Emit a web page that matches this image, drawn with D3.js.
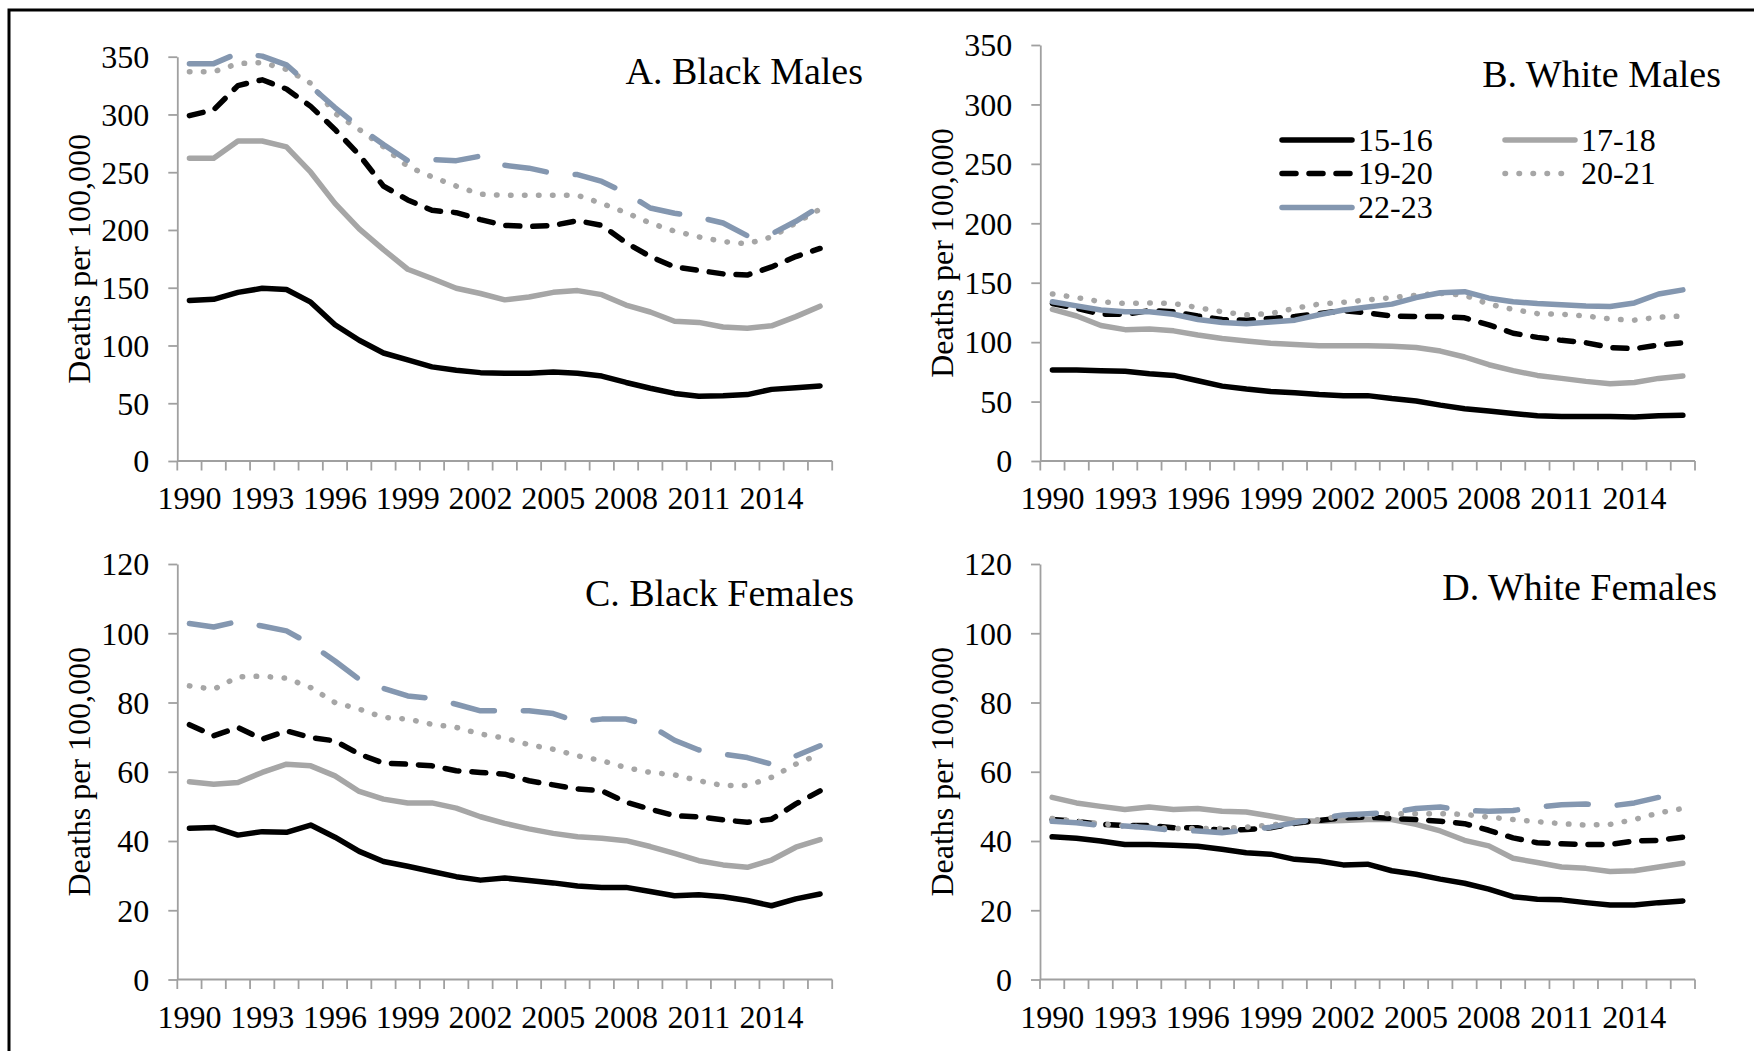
<!DOCTYPE html>
<html>
<head>
<meta charset="utf-8">
<script src="https://cdn.jsdelivr.net/npm/d3@7"></script>
<style>
  html, body { margin: 0; padding: 0; background: #fff; overflow: hidden; }
  svg { display: block; }
  text { font-family: "Liberation Serif", "Times New Roman", serif; fill: #000; }
</style>
</head>
<body>
<svg id="chart" width="1754" height="1051"></svg>
<script>
// categories
var years = [1990, 1991, 1992, 1993, 1994, 1995, 1996, 1997, 1998, 1999, 2000, 2001, 2002, 2003,
  2004, 2005, 2006, 2007, 2008, 2009, 2010, 2011, 2012, 2013, 2014, 2015, 2016];
var yearLabels = [1990, 1993, 1996, 1999, 2002, 2005, 2008, 2011, 2014];
var ageGroups = ["15-16", "17-18", "19-20", "20-21", "22-23"];
var maleTicks = [0, 50, 100, 150, 200, 250, 300, 350];
var femaleTicks = [0, 20, 40, 60, 80, 100, 120];

// A. Black Males
var blackMales1516 = [139, 140, 146, 149.5, 148.5, 137.5, 118, 104.5, 93.5, 87.5, 81.5, 78.5, 76.5, 76, 76, 77, 76, 73.5, 68, 63, 58.5, 56, 56.5, 57.5, 62, 63.5, 65];
var blackMales1718 = [262, 262, 277, 277, 272, 250, 223, 201, 183, 166, 158, 149.5, 145, 139.5, 142, 146, 147.5, 144, 135, 129, 121, 120, 116, 115, 117, 125, 134];
var blackMales1920 = [299, 304, 325, 330, 322, 307, 287, 265, 238, 226, 217, 215, 209, 204, 203, 204, 208, 204, 189, 177, 168, 165, 162, 161, 168, 177, 184];
var blackMales2021 = [337, 337, 344, 345, 339, 327, 301, 287, 272, 255, 246, 238, 231, 230, 230, 230, 230, 223, 215, 206, 199, 194, 190, 188, 194, 206, 218];
var blackMales2223 = [344, 344, 353, 350.5, 343, 324.5, 306, 289, 274, 260, 261, 260, 264, 256, 253.5, 249, 248, 242, 232, 219, 214.5, 211, 206, 195, 196.5, 207.5, 220.5];

// B. White Males
var whiteMales1516 = [76.5, 76.5, 76, 75.5, 73.5, 72, 67.5, 63, 60.5, 58.5, 57.5, 56, 55, 55, 52.5, 50.5, 47, 44, 42, 40, 38, 37.5, 37.5, 37.5, 37, 38, 38.5];
var whiteMales1718 = [127.5, 122, 114, 110.5, 111, 109.5, 106, 103, 101, 99, 98, 97, 97, 97, 96.5, 95.5, 92.5, 87.5, 81, 76, 72, 69.5, 67, 65, 66, 69.5, 71.5];
var whiteMales1920 = [132.5, 128.5, 123.5, 123.5, 126.5, 125.5, 122, 119, 118.5, 120, 121.5, 124, 126.5, 124.5, 122, 121.5, 121.5, 120.5, 114.5, 107.5, 104, 101.5, 99.5, 95.5, 94.5, 97.5, 99.5];
var whiteMales2021 = [140.5, 137.5, 134, 132.5, 133, 132.5, 129, 125.5, 123, 124, 128.5, 132, 133.5, 135.5, 137.5, 139.5, 141, 139.5, 132, 127.5, 124, 123.5, 122, 119.5, 118.5, 121, 122];
var whiteMales2223 = [134, 130.5, 127, 125.5, 125.5, 123.5, 119, 116.5, 115.5, 117, 118.5, 123, 127, 129.5, 132, 137.5, 141.5, 142.5, 137, 134, 132.5, 131.5, 130.5, 130, 133, 140.5, 144];

// C. Black Females
var blackFemales1516 = [43.7, 43.9, 41.7, 42.7, 42.5, 44.6, 41.1, 37, 34.1, 32.7, 31.2, 29.7, 28.7, 29.3, 28.6, 27.9, 27, 26.6, 26.6, 25.4, 24.2, 24.5, 23.9, 22.8, 21.3, 23.3, 24.7];
var blackFemales1718 = [57.1, 56.4, 56.9, 59.8, 62.2, 61.7, 58.8, 54.3, 52.1, 51, 51, 49.5, 47, 45.1, 43.5, 42.2, 41.2, 40.8, 40.1, 38.4, 36.4, 34.3, 33.1, 32.4, 34.5, 38.2, 40.4];
var blackFemales1920 = [73.6, 70.4, 72.8, 69.4, 71.8, 69.9, 68.9, 65.1, 62.5, 62.2, 61.7, 60.3, 59.8, 59.3, 57.4, 56.2, 55, 54.5, 51.2, 49.2, 47.3, 47, 46.1, 45.4, 46.3, 50.7, 54.5];
var blackFemales2021 = [84.8, 83.8, 87.4, 87.6, 87, 84.3, 80, 78.1, 75.7, 75.2, 73.7, 72.8, 70.9, 69.7, 67.8, 66.5, 64.6, 63.2, 61.2, 59.8, 59.1, 57.4, 56, 56, 58.4, 62.2, 65.1];
var blackFemales2223 = [102.8, 101.8, 103.4, 102.1, 100.7, 96.8, 92, 86.7, 84.1, 81.9, 81.2, 79.5, 77.6, 77.6, 77.6, 76.8, 74.5, 75.2, 75.2, 73.3, 69.1, 66.3, 65.1, 64.1, 62.2, 64.6, 67.5];

// D. White Females
var whiteFemales1516 = [41.2, 40.8, 40, 39, 39, 38.8, 38.5, 37.6, 36.6, 36.2, 34.7, 34.2, 33.1, 33.3, 31.4, 30.4, 29, 27.8, 26.1, 23.9, 23.2, 23, 22.2, 21.5, 21.5, 22.2, 22.7];
var whiteFemales1718 = [52.6, 51, 50, 49.1, 49.8, 49.1, 49.4, 48.6, 48.4, 47.2, 45.9, 45.7, 45.9, 46.2, 46.2, 44.8, 42.9, 40.2, 38.6, 35, 33.8, 32.5, 32.1, 31.2, 31.4, 32.5, 33.6];
var whiteFemales1920 = [46.2, 45.7, 44.8, 44.5, 44.5, 43.8, 43.8, 43.1, 43.3, 43.8, 45.1, 45.9, 46.7, 46.9, 46.5, 46.2, 45.7, 45, 43.1, 40.9, 39.5, 39.2, 39, 39, 40, 40.2, 41.1];
var whiteFemales2021 = [46.5, 45.7, 45, 44.3, 44, 43.6, 43.6, 43.6, 44, 44.6, 45.3, 46.2, 47.2, 47.7, 47.9, 47.9, 47.9, 47.7, 46.9, 46.2, 45.6, 45, 44.6, 44.8, 46.2, 48.1, 49.4];
var whiteFemales2223 = [45.7, 45.3, 44.5, 44.3, 43.8, 43.1, 42.9, 42.4, 43.1, 44, 45.3, 46.5, 47.5, 47.9, 48.3, 49.4, 49.8, 48.8, 48.6, 48.8, 49.8, 50.5, 50.7, 50.1, 51, 52.6, 54.4];

(function() {

  var svg = d3.select("#chart");

  var black = "#000",
      gray = "#a6a6a6",
      blue = "#8497b0",
      axisColor = "#a0a0a0",
      lineWidth = 5.5;

  // line look per age group; the 22-23 line is long-dashed except in panel B
  var styles = {
    "15-16": { color: black, dash: null },
    "17-18": { color: gray, dash: null },
    "19-20": { color: black, dash: "14,13" },
    "20-21": { color: gray, dash: "0.5,13.5" },
    "22-23": { color: blue, dash: "42,29" }
  };

  var panels = [
    { title: "A. Black Males", series: [blackMales1516, blackMales1718, blackMales1920, blackMales2021, blackMales2223],
      ticks: maleTicks, left: 177.3, right: 832.2, top: 56.7, bottom: 461, titleX: 863, titleY: 84, solidBlue: false },
    { title: "B. White Males", series: [whiteMales1516, whiteMales1718, whiteMales1920, whiteMales2021, whiteMales2223],
      ticks: maleTicks, left: 1040.3, right: 1695, top: 45, bottom: 461, titleX: 1721, titleY: 87, solidBlue: true },
    { title: "C. Black Females", series: [blackFemales1516, blackFemales1718, blackFemales1920, blackFemales2021, blackFemales2223],
      ticks: femaleTicks, left: 177.3, right: 832.2, top: 564, bottom: 979.5, titleX: 854, titleY: 606, solidBlue: false },
    { title: "D. White Females", series: [whiteFemales1516, whiteFemales1718, whiteFemales1920, whiteFemales2021, whiteFemales2223],
      ticks: femaleTicks, left: 1040, right: 1695, top: 564, bottom: 979.5, titleX: 1717, titleY: 600, solidBlue: false }
  ];

  // frame round the figure: only its top and left edges fall inside the picture
  svg.append("path")
    .attr("d", "M9,1051 L9,10 L1754,10")
    .style("fill", "none")
    .style("stroke", "#000")
    .style("stroke-width", 3);

  function seriesStyle(age, panel) {
    if (age === "22-23" && panel.solidBlue) {
      return { color: blue, dash: null };
    }
    return styles[age];
  }

  panels.forEach(function(panel) {
    var g = svg.append("g");

    var x = d3.scaleBand().domain(years).range([panel.left, panel.right]).padding(0);
    var y = d3.scaleLinear().domain([0, d3.max(panel.ticks)]).range([panel.bottom, panel.top]);

    // y axis
    var yAxis = g.append("g")
      .attr("transform", "translate(" + panel.left + ",0)")
      .call(d3.axisLeft(y).tickValues(panel.ticks).tickSize(9).tickSizeOuter(0).tickPadding(19));
    yAxis.select(".domain").style("stroke", axisColor).style("stroke-width", 1.8);
    yAxis.selectAll(".tick line").style("stroke", axisColor).style("stroke-width", 1.8);
    yAxis.selectAll(".tick text")
      .attr("dy", null)
      .attr("y", 10.8)
      .style("font-family", "'Liberation Serif', 'Times New Roman', serif")
      .style("font-size", "32px")
      .style("fill", "#000");

    // x axis: ticks sit between the categories
    g.append("line")
      .attr("x1", panel.left).attr("x2", panel.right)
      .attr("y1", y(0)).attr("y2", y(0))
      .style("stroke", axisColor).style("stroke-width", 1.8);

    var edges = years.map(function(d) { return x(d); }).concat([panel.right]);
    g.selectAll(".xtick")
      .data(edges)
      .enter().append("line")
      .attr("class", "xtick")
      .attr("x1", function(d) { return d; })
      .attr("x2", function(d) { return d; })
      .attr("y1", y(0))
      .attr("y2", y(0) + 9.5)
      .style("stroke", axisColor).style("stroke-width", 1.8);

    g.selectAll(".xlabel")
      .data(yearLabels)
      .enter().append("text")
      .attr("class", "xlabel")
      .attr("x", function(d) { return x(d) + x.bandwidth() / 2; })
      .attr("y", y(0) + 48)
      .attr("text-anchor", "middle")
      .style("font-size", "32px")
      .text(function(d) { return d; });

    // y axis title
    g.append("text")
      .attr("transform", "translate(" + (panel.left - 87) + "," + ((panel.top + panel.bottom) / 2) + ") rotate(-90)")
      .attr("text-anchor", "middle")
      .style("font-size", "32px")
      .text("Deaths per 100,000");

    // panel title
    g.append("text")
      .attr("x", panel.titleX)
      .attr("y", panel.titleY)
      .attr("text-anchor", "end")
      .style("font-size", "38px")
      .text(panel.title);

    var line = d3.line()
      .x(function(d, i) { return x(years[i]) + x.bandwidth() / 2; })
      .y(function(d) { return y(d); });

    panel.series.forEach(function(values, k) {
      var st = seriesStyle(ageGroups[k], panel);
      g.append("path")
        .datum(values)
        .attr("d", line)
        .style("fill", "none")
        .style("stroke", st.color)
        .style("stroke-width", lineWidth)
        .style("stroke-linecap", "round")
        .style("stroke-linejoin", "round")
        .style("stroke-dasharray", st.dash);
    });

    // the legend sits inside panel B
    if (panel.solidBlue) {
      var legendPos = [
        { x: 1282, y: 140 }, { x: 1505, y: 140 },
        { x: 1282, y: 173.5 }, { x: 1505, y: 173.5 },
        { x: 1282, y: 207.5 }
      ];
      var legend = g.selectAll(".legend")
        .data(ageGroups)
        .enter().append("g")
        .attr("class", "legend")
        .attr("transform", function(d, i) {
          return "translate(" + legendPos[i].x + "," + legendPos[i].y + ")";
        });

      legend.append("line")
        .attr("x1", 0).attr("x2", function(d) { return d === "20-21" ? 58 : 70; })
        .attr("y1", 0).attr("y2", 0)
        .style("stroke", function(d) { return seriesStyle(d, panel).color; })
        .style("stroke-width", lineWidth)
        .style("stroke-linecap", "round")
        .style("stroke-dasharray", function(d) { return seriesStyle(d, panel).dash; });

      legend.append("text")
        .attr("x", 76)
        .attr("y", 10.8)
        .style("font-size", "32px")
        .text(function(d) { return d; });
    }
  });

}());
</script>
</body>
</html>
